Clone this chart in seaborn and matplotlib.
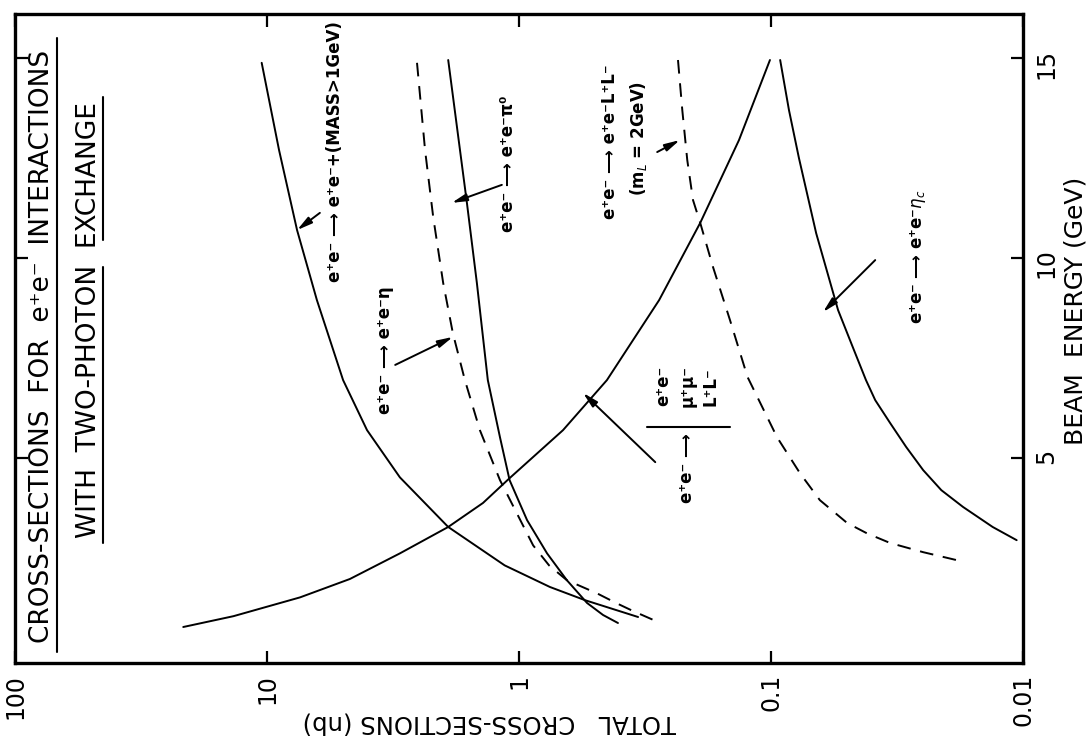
import numpy as np
import matplotlib
matplotlib.use('Agg')
import matplotlib.pyplot as plt
from matplotlib.ticker import NullLocator
import seaborn as sns

# beam energy (GeV) and total cross-section (nb)
e_mass = [14.88, 12.7, 10.7, 8.95, 6.95, 5.7, 4.52, 3.28, 2.32, 1.78, 1.45, 1.03]
s_mass = [10.5, 8.96, 7.6, 6.34, 4.99, 4.01, 2.97, 1.91, 1.14, 0.754, 0.547, 0.337]

e_pi0 = [14.95, 13.12, 11.38, 9.38, 6.95, 5.52, 4.45, 3.45, 2.62, 1.95, 1.38, 1.08, 0.88]
s_pi0 = [1.91, 1.75, 1.61, 1.47, 1.33, 1.19, 1.09, 0.929, 0.774, 0.646, 0.537, 0.464, 0.405]

e_eta = [14.88, 12.7, 11.02, 9.38, 8.12, 6.95, 5.7, 4.45, 3.62, 2.82, 2.32, 1.95, 1.62,
         1.38, 1.18, 0.88]
s_eta = [2.54, 2.36, 2.19, 2.0, 1.83, 1.64, 1.43, 1.19, 1.02, 0.879, 0.760, 0.646, 0.490,
         0.412, 0.353, 0.275]

e_lep = [0.78, 1.05, 1.52, 1.98, 2.62, 3.28, 3.88, 4.5, 5.7, 6.95, 8.95, 10.88, 12.95, 14.95]
s_lep = [21.5, 13.6, 7.4, 4.69, 2.97, 1.91, 1.39, 1.09, 0.669, 0.448, 0.278, 0.191, 0.134, 0.101]

e_heavy = [14.95, 13.7, 12.45, 11.45, 10.88, 9.78, 8.45, 7.03, 5.52, 4.62, 3.95, 3.38,
           3.12, 2.88, 2.65, 2.45]
s_heavy = [0.234, 0.225, 0.215, 0.204, 0.191, 0.170, 0.1455, 0.124, 0.0946, 0.0767, 0.064,
           0.0499, 0.0416, 0.0337, 0.0249, 0.0183]

e_etac = [14.95, 13.7, 12.5, 10.62, 8.7, 7.82, 6.95, 6.45, 5.88, 5.28, 4.7, 4.2, 3.78,
          3.28, 2.95]
s_etac = [0.092, 0.0849, 0.0775, 0.0662, 0.0542, 0.0477, 0.0420, 0.0386, 0.0337, 0.0291,
          0.0249, 0.0211, 0.0173, 0.0132, 0.0106]

sigma_ticks = [100, 10, 1, 0.1, 0.01]
sigma_labels = ['100', '10', '1', '0.1', '0.01']
energy_ticks = [5, 10, 15]

sns.set_style('ticks')
plt.rcParams['font.family'] = ['DejaVu Sans']
plt.rcParams.update({'text.color': 'black', 'axes.labelcolor': 'black',
                     'xtick.color': 'black', 'ytick.color': 'black',
                     'axes.edgecolor': 'black'})

fig = plt.figure(figsize=(10.88, 7.49), dpi=100)
ax = fig.add_axes([0.0138, 0.1148, 0.9265, 0.8665])

dash = (0, (7, 5))
curves = [(s_mass, e_mass, '-'), (s_pi0, e_pi0, '-'), (s_eta, e_eta, dash),
          (s_lep, e_lep, '-'), (s_heavy, e_heavy, dash), (s_etac, e_etac, '-')]
for s, e, ls in curves:
    sns.lineplot(x=s, y=e, sort=False, estimator=None, color='black',
                 lw=1.4, linestyle=ls, ax=ax)

ax.set_xscale('log')
ax.set_xlim(100, 0.01)
ax.set_ylim(-0.12, 16.1)
ax.set_xticks(sigma_ticks, labels=sigma_labels)
ax.xaxis.set_minor_locator(NullLocator())
ax.set_yticks(energy_ticks)
ax.tick_params(axis='both', which='major', direction='in', length=9, width=1.6,
               top=True, right=True, labelsize=17, pad=8)
ax.tick_params(axis='x', labelrotation=90)
ax.tick_params(axis='y', labelleft=False, labelright=True, labelrotation=90)
for sp in ax.spines.values():
    sp.set_linewidth(2.4)

ax.set_xlabel('TOTAL   CROSS-SECTIONS (nb)', rotation=180, fontsize=17.5)
ax.xaxis.set_label_coords(0.471, -0.092)
ax.xaxis.label.set_va('center')
ax.yaxis.set_label_position('right')
ax.set_ylabel('BEAM  ENERGY (GeV)', rotation=90, fontsize=18)
ax.yaxis.set_label_coords(1.052, 0.542)
ax.yaxis.label.set_va('center')
ax.yaxis.label.set_ha('center')

# title block, underlined
ax.text(0.0268, 0.488, 'CROSS-SECTIONS  FOR  e⁺e⁻  INTERACTIONS', transform=ax.transAxes,
        rotation=90, ha='center', va='center', fontsize=19)
ax.text(0.0734, 0.528, 'WITH  TWO-PHOTON  EXCHANGE', transform=ax.transAxes,
        rotation=90, ha='center', va='center', fontsize=19)
ax.plot([0.0417, 0.0417], [0.017, 0.963], transform=ax.transAxes, color='k', lw=1.5)
ax.plot([0.0873, 0.0873], [0.652, 0.872], transform=ax.transAxes, color='k', lw=1.5)
ax.plot([0.0873, 0.0873], [0.185, 0.610], transform=ax.transAxes, color='k', lw=1.5)

lab = dict(rotation=90, ha='center', va='center', fontsize=12, fontweight='bold')
ax.text(5.37, 12.65, 'e⁺e⁻ ⟶ e⁺e⁻+(MASS>1GeV)', **lab)
ax.text(3.40, 7.7, 'e⁺e⁻ ⟶ e⁺e⁻η', **lab)
ax.text(1.11, 12.35, 'e⁺e⁻ ⟶ e⁺e⁻π⁰', **lab)
ax.text(0.435, 12.9, 'e⁺e⁻ ⟶ e⁺e⁻L⁺L⁻', **lab)
ax.text(0.337, 13.0, '(m$_L$ = 2GeV)', **lab)
ax.text(0.0261, 10.03, 'e⁺e⁻ ⟶ e⁺e⁻$\\eta_c$', **lab)
ax.text(0.215, 4.75, 'e⁺e⁻ ⟶', **lab)
ax.text(0.215, 6.8, 'e⁺e⁻\nμ⁺μ⁻\nL⁺L⁻', linespacing=1.4, **lab)
ax.plot([0.31, 0.1455], [5.78, 5.78], color='k', lw=1.5)

arrows = [((7.6, 10.7), (6.17, 11.13)), ((1.83, 8.03), (3.10, 7.33)),
          ((1.85, 11.38), (1.17, 11.83)), ((0.230, 12.95), (0.283, 12.65)),
          ((0.0622, 8.65), (0.0386, 9.95)), ((0.557, 6.63), (0.288, 4.9))]
for head, tail in arrows:
    ax.annotate('', xy=head, xytext=tail,
                arrowprops=dict(arrowstyle='-|>,head_length=0.9,head_width=0.22',
                                color='k', lw=1.4, shrinkA=0, shrinkB=0))

fig.savefig('out.png', dpi=100)
